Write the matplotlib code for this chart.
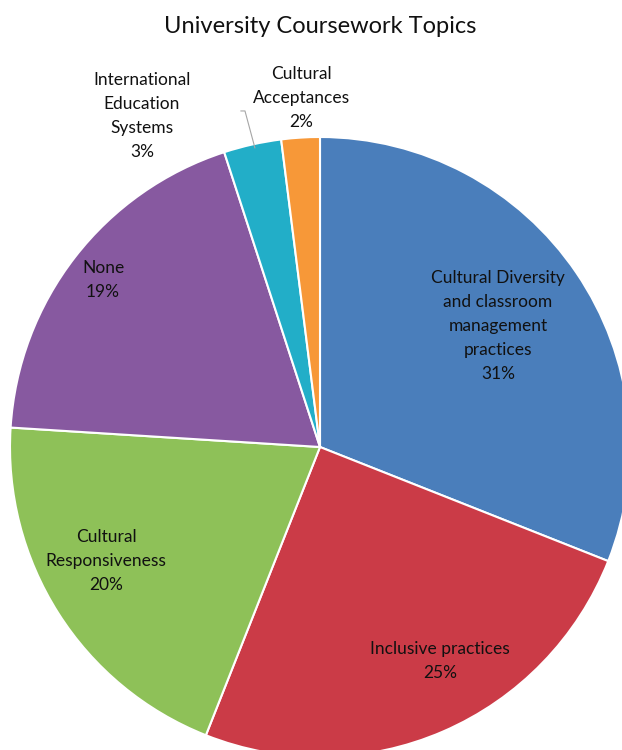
import matplotlib.pyplot as plt

# Coursework topic shares (percent), clockwise from 12 o'clock
topics = [
    "Cultural Diversity\nand classroom\nmanagement\npractices",
    "Inclusive practices",
    "Cultural\nResponsiveness",
    "None",
    "International\nEducation\nSystems",
    "Cultural\nAcceptances",
]
shares = [31, 25, 20, 19, 3, 2]
colors = ["#4A7EBB", "#CB3B47", "#8EC158", "#8759A0", "#22AEC8", "#F79838"]

# label centres in axes data units (pie radius = 1)
label_pos = [
    (0.574, 0.390),
    (0.387, -0.690),
    (-0.690, -0.368),
    (-0.700, 0.539),
    (-0.574, 1.068),
    (-0.061, 1.126),
]

plt.rcParams["font.family"] = ["Lato", "DejaVu Sans"]

fig = plt.figure(figsize=(6.22, 7.5), dpi=100)
# pie is big enough to run off the right and bottom edges
ax = fig.add_axes([10 / 622, -7 / 750, 620 / 622, 620 / 750])
ax.pie(shares, colors=colors, startangle=90, counterclock=False, radius=1,
       wedgeprops=dict(edgecolor="white", linewidth=1.5))
ax.set_xlim(-1, 1)
ax.set_ylim(-1, 1)
ax.set_aspect("equal")
ax.axis("off")

for name, val, (x, y) in zip(topics, shares, label_pos):
    ax.text(x, y, f"{name}\n{val}%", ha="center", va="center", fontsize=12.5,
            color="#111111", linespacing=1.6, clip_on=False)

# leader line for the small International Education Systems slice
ax.plot([-0.255, -0.242, -0.210], [1.084, 1.084, 0.965], color="#A6A6A6",
        linewidth=0.8, clip_on=False)

fig.text(0.515, 0.965, "University Coursework Topics", ha="center", va="center",
         fontsize=17, color="#111111")

fig.savefig("out.png", dpi=100)
